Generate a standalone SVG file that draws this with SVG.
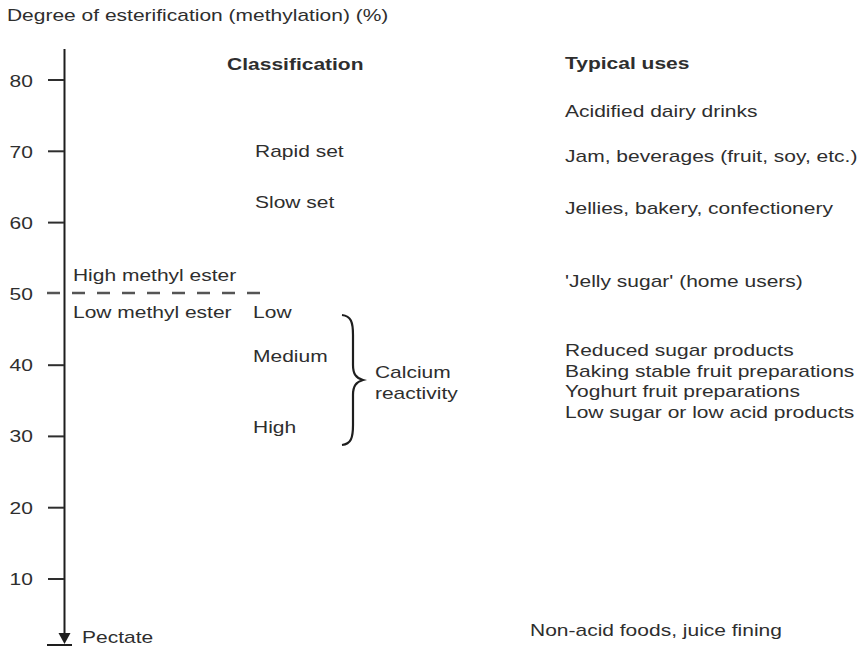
<svg xmlns="http://www.w3.org/2000/svg" width="864" height="651" viewBox="0 0 864 651">
<style>
  .t { font-family: "Liberation Sans", Arial, sans-serif; font-size: 16px; fill: #2e2e2e; }
  .b { font-weight: bold; }
  .e { text-anchor: end; }
  .ax { stroke: #1e1e1e; stroke-width: 2; fill: none; }
  .tk { stroke: #2e2e2e; stroke-width: 2; }
</style>
<rect width="864" height="651" fill="#ffffff"/>
<g id="axis">
  <line class="ax" x1="64.5" y1="49" x2="64.5" y2="636"/>
  <polygon points="58.5,633 70.5,633 64.5,644" fill="#1e1e1e"/>
  <line class="ax" x1="47" y1="645" x2="72" y2="645"/>
  <line class="tk" x1="48" y1="80" x2="64" y2="80"/>
  <line class="tk" x1="48" y1="151.3" x2="64" y2="151.3"/>
  <line class="tk" x1="48" y1="222.6" x2="64" y2="222.6"/>
  <line class="tk" x1="48" y1="365.2" x2="64" y2="365.2"/>
  <line class="tk" x1="48" y1="436.4" x2="64" y2="436.4"/>
  <line class="tk" x1="48" y1="507.7" x2="64" y2="507.7"/>
  <line class="tk" x1="48" y1="579" x2="64" y2="579"/>
</g>
<g id="connectors">
  <line x1="47" y1="293" x2="265" y2="293" stroke="#555" stroke-width="2.5" stroke-dasharray="13,12"/>
  <path d="M342,315 C351,316 353,322 353,335 L353,365 C353,374 356,378 363,380 C356,382 353,386 353,395 L353,425 C353,438 351,444 342,445" fill="none" stroke="#1e1e1e" stroke-width="2.2"/>
</g>
<g id="labels" transform="scale(1.3125 1)">
  <text class="t" x="5.3" y="21">Degree of esterification (methylation) (%)</text>
  <g id="ticklabels">
    <text class="t e" x="25.1" y="87">80</text>
    <text class="t e" x="25.1" y="158">70</text>
    <text class="t e" x="25.1" y="229">60</text>
    <text class="t e" x="25.1" y="300">50</text>
    <text class="t e" x="25.1" y="371">40</text>
    <text class="t e" x="25.1" y="442">30</text>
    <text class="t e" x="25.1" y="514">20</text>
    <text class="t e" x="25.1" y="585">10</text>
  </g>
  <text class="t" x="62.5" y="643">Pectate</text>
  <g id="classification">
    <text class="t b" x="173" y="70">Classification</text>
    <text class="t" x="194.3" y="157">Rapid set</text>
    <text class="t" x="194.3" y="208">Slow set</text>
    <text class="t" x="55.6" y="281">High methyl ester</text>
    <text class="t" x="55.6" y="318">Low methyl ester</text>
    <text class="t" x="192.8" y="318">Low</text>
    <text class="t" x="192.8" y="362">Medium</text>
    <text class="t" x="192.8" y="433">High</text>
    <text class="t" x="285.7" y="378">Calcium</text>
    <text class="t" x="285.7" y="399">reactivity</text>
  </g>
  <g id="uses">
    <text class="t b" x="430.5" y="69">Typical uses</text>
    <text class="t" x="430.5" y="117">Acidified dairy drinks</text>
    <text class="t" x="430.5" y="162">Jam, beverages (fruit, soy, etc.)</text>
    <text class="t" x="430.5" y="214">Jellies, bakery, confectionery</text>
    <text class="t" x="430.5" y="287">'Jelly sugar' (home users)</text>
    <text class="t" x="430.5" y="356">Reduced sugar products</text>
    <text class="t" x="430.5" y="377">Baking stable fruit preparations</text>
    <text class="t" x="430.5" y="397">Yoghurt fruit preparations</text>
    <text class="t" x="430.5" y="418">Low sugar or low acid products</text>
    <text class="t" x="403.8" y="636">Non-acid foods, juice fining</text>
  </g>
</g>
</svg>
